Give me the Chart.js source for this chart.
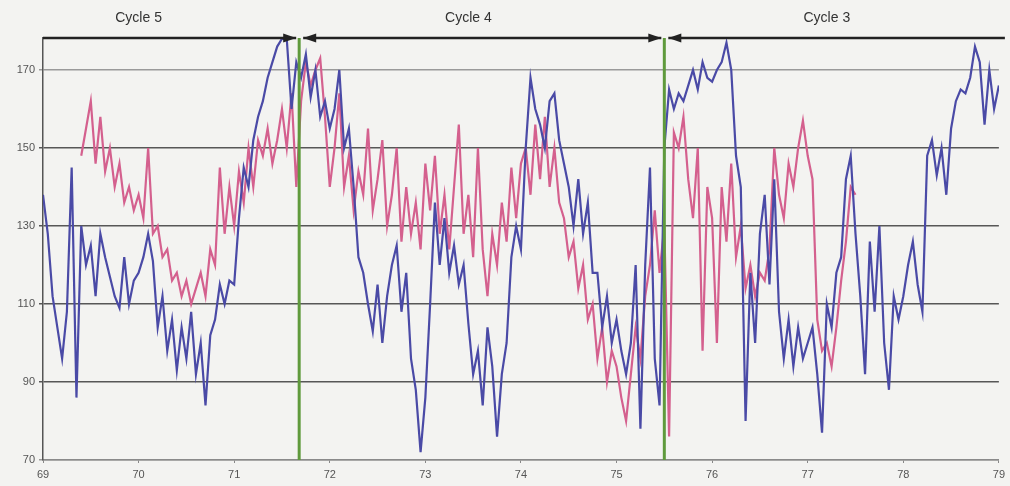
<!DOCTYPE html>
<html>
<head>
<meta charset="utf-8">
<script src="https://cdn.jsdelivr.net/npm/chart.js@4.4.1/dist/chart.umd.min.js"></script>
<style>
  html, body { margin: 0; padding: 0; background: #f3f3f1; }
  #wrap { width: 1010px; height: 486px; }
</style>
</head>
<body>
<div id="wrap"><canvas id="cycleChart" width="1010" height="486"></canvas></div>
<script>
// x runs from 69 to 79 in steps of 0.05
const xStart = 69;
const xStep = 0.05;
const xTicks = [69, 70, 71, 72, 73, 74, 75, 76, 77, 78, 79];
const yTicks = [70, 90, 110, 130, 150, 170];

// blue series, 69.00 .. 79.00
const blueValues = [
  138,128,112,104,96,108,145,86,130,120,125,112,128,122,117,112,109,122,110,116,
  118,122,128,121,104,112,98,106,93,104,96,108,92,100,84,102,106,115,110,116,
  115,132,145,140,152,158,162,168,172,176,178,178,160,172,168,174,163,170,158,162,
  155,160,170,150,155,140,122,118,110,103,115,100,112,120,125,108,118,96,88,72,
  86,110,136,120,132,118,125,115,120,105,92,98,84,104,94,76,92,100,122,130,
  124,150,168,160,156,150,162,164,152,146,140,130,142,128,136,118,118,104,112,100,
  106,98,92,100,120,78,120,145,96,84,150,165,160,164,162,166,170,165,172,168,
  167,170,172,177,170,148,140,80,118,100,128,138,115,142,108,96,106,94,104,96,
  100,104,92,77,110,104,118,122,142,148,128,112,92,126,108,130,100,88,112,106,
  112,120,126,115,108,148,152,143,150,138,155,162,165,164,168,176,172,156,170,160,166
];

// pink series, 69.40 .. 77.50
const pinkStart = 69.4;
const pinkValues = [
  148,155,162,146,158,144,150,140,146,136,140,134,
  138,132,150,128,130,122,124,116,118,112,116,110,114,118,112,124,120,145,128,140,
  130,144,136,150,140,152,148,155,146,152,160,150,164,140,162,172,166,170,173,158,
  140,150,164,140,148,134,144,138,155,134,142,152,130,138,150,126,140,128,136,124,
  146,134,148,128,138,124,140,156,128,138,122,150,124,112,128,120,136,126,145,132,
  146,150,138,156,142,158,140,150,136,132,122,126,114,120,106,110,96,104,90,98,
  94,86,80,92,104,96,112,120,134,118,130,76,154,150,158,142,132,150,98,140,
  132,100,140,126,146,122,130,114,120,112,118,116,124,150,138,132,146,140,150,157,
  148,142,106,98,100,94,104,116,126,140,138
];

// cycle markers along the top
const cycleEdges = [69, 71.68, 75.5, 79];
const cycleNames = ["Cycle 5", "Cycle 4", "Cycle 3"];
const cycleLabelX = [70.0, 73.45, 77.2];

const bluePoints = blueValues.map((v, i) => ({ x: +(xStart + i * xStep).toFixed(2), y: v }));
const pinkPoints = pinkValues.map((v, i) => ({ x: +(pinkStart + i * xStep).toFixed(2), y: v }));

const background = {
  id: "background",
  beforeDraw(chart) {
    const ctx = chart.ctx;
    ctx.save();
    ctx.fillStyle = "#f3f3f1";
    ctx.fillRect(0, 0, chart.width, chart.height);
    ctx.restore();
  }
};

function arrowHead(ctx, x, y, dir) {
  ctx.beginPath();
  ctx.moveTo(x, y);
  ctx.lineTo(x - dir * 13, y - 4.5);
  ctx.lineTo(x - dir * 13, y + 4.5);
  ctx.closePath();
  ctx.fill();
}

const cycleMarks = {
  id: "cycleMarks",
  afterDatasetsDraw(chart) {
    const ctx = chart.ctx;
    const xs = chart.scales.x;
    const area = chart.chartArea;
    const top = area.top;
    ctx.save();

    // green boundaries
    ctx.strokeStyle = "#5f9a3c";
    ctx.lineWidth = 3;
    for (let i = 1; i < cycleEdges.length - 1; i++) {
      const px = xs.getPixelForValue(cycleEdges[i]);
      ctx.beginPath();
      ctx.moveTo(px, top);
      ctx.lineTo(px, area.bottom);
      ctx.stroke();
    }

    // arrows
    ctx.strokeStyle = "#222";
    ctx.fillStyle = "#222";
    ctx.lineWidth = 2.5;
    for (let i = 0; i < cycleNames.length; i++) {
      let a = xs.getPixelForValue(cycleEdges[i]);
      let b = xs.getPixelForValue(cycleEdges[i + 1]);
      if (i > 0) a += 4;
      if (i < cycleNames.length - 1) b -= 3; else b += 6;
      ctx.beginPath();
      ctx.moveTo(a, top);
      ctx.lineTo(b, top);
      ctx.stroke();
      if (i > 0) arrowHead(ctx, a, top, -1);
      if (i < cycleNames.length - 1) arrowHead(ctx, b, top, 1);
    }

    // labels
    ctx.font = "14px 'Liberation Sans', Arial, sans-serif";
    ctx.fillStyle = "#333";
    ctx.textAlign = "center";
    ctx.textBaseline = "middle";
    cycleNames.forEach((name, i) => {
      ctx.fillText(name, xs.getPixelForValue(cycleLabelX[i]), 18);
    });
    ctx.restore();
  }
};

new Chart(document.getElementById("cycleChart"), {
  type: "line",
  data: {
    datasets: [
      {
        label: "blue",
        data: bluePoints,
        borderColor: "#4a4aa6",
        borderWidth: 2.2,
        pointRadius: 0,
        tension: 0,
        order: 1
      },
      {
        label: "pink",
        data: pinkPoints,
        borderColor: "#d4608e",
        borderWidth: 2.2,
        pointRadius: 0,
        tension: 0,
        order: 2
      }
    ]
  },
  options: {
    responsive: false,
    animation: false,
    layout: { padding: { top: 38, right: 7, left: 0, bottom: 0 } },
    plugins: {
      legend: { display: false },
      tooltip: { enabled: false }
    },
    scales: {
      x: {
        type: "linear",
        min: 69,
        max: 79,
        afterBuildTicks: s => { s.ticks = xTicks.map(v => ({ value: v })); },
        afterFit: s => { s.height = 26; },
        grid: { drawOnChartArea: false, tickLength: 3, color: "#888" },
        border: { color: "#8a8a8a", width: 1.5, dash: [3, 2] },
        ticks: {
          padding: 5,
          maxRotation: 0,
          color: "#555",
          font: { family: "'Liberation Sans', Arial, sans-serif", size: 11 }
        }
      },
      y: {
        min: 70,
        max: 178.2,
        afterBuildTicks: s => { s.ticks = yTicks.map(v => ({ value: v })); },
        afterFit: s => { s.width = 43; },
        grid: {
          color: c => (c.tick && (c.tick.value === 170 || c.tick.value === 70)) ? "#9a9a9a" : "#575757",
          lineWidth: 1.5,
          tickLength: 4
        },
        border: { color: "#555", width: 1.5 },
        ticks: {
          padding: 4,
          color: "#555",
          font: { family: "'Liberation Sans', Arial, sans-serif", size: 11 }
        }
      }
    }
  },
  plugins: [background, cycleMarks]
});
</script>
</body>
</html>
